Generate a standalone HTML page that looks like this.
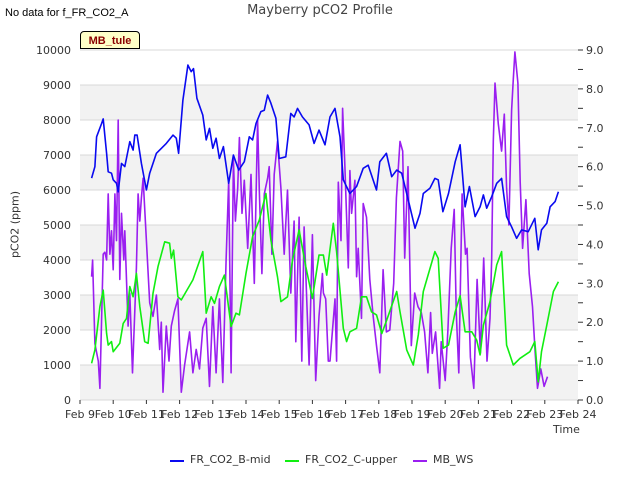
<!DOCTYPE html>
<html><head><meta charset="utf-8"><style>
body{margin:0;background:#fff;font-family:"Liberation Sans","DejaVu Sans",sans-serif;}
svg text{font-family:"DejaVu Sans","Liberation Sans",sans-serif;}
</style></head><body>
<svg id="c" width="640" height="480" xmlns="http://www.w3.org/2000/svg"></svg>
<script>
const xTickLabels=["Feb 9","Feb 10","Feb 11","Feb 12","Feb 13","Feb 14","Feb 15","Feb 16","Feb 17","Feb 18","Feb 19","Feb 20","Feb 21","Feb 22","Feb 23","Feb 24"];
const yLeftTicks=[0,1000,2000,3000,4000,5000,6000,7000,8000,9000,10000];
const yRightTicks=[0,1,2,3,4,5,6,7,8,9];
const blueT=[0.35,0.45,0.5,0.65,0.7,0.8,0.85,0.95,1.0,1.1,1.15,1.25,1.35,1.5,1.6,1.65,1.72,1.85,2.0,2.1,2.3,2.6,2.8,2.9,2.97,3.1,3.25,3.35,3.42,3.52,3.7,3.8,3.9,4.0,4.1,4.2,4.32,4.48,4.62,4.78,4.95,5.1,5.2,5.3,5.45,5.55,5.65,5.75,5.9,6.0,6.2,6.35,6.45,6.55,6.7,6.9,7.05,7.2,7.38,7.53,7.68,7.83,7.93,8.13,8.33,8.53,8.68,8.93,9.03,9.23,9.39,9.54,9.69,9.89,10.09,10.24,10.34,10.54,10.69,10.79,10.93,11.1,11.3,11.45,11.6,11.73,11.9,12.05,12.15,12.25,12.4,12.55,12.7,12.85,13.0,13.15,13.3,13.5,13.7,13.8,13.9,14.06,14.16,14.31,14.41];
const blueV=[6340,6670,7520,7900,8030,7050,6520,6480,6290,6190,5950,6760,6670,7380,7140,7570,7570,6760,6000,6480,7050,7330,7570,7480,7050,8570,9570,9380,9470,8620,8140,7430,7760,7190,7480,6900,7240,6190,7000,6570,6810,7520,7430,7900,8240,8280,8710,8480,8050,6900,6950,8190,8090,8330,8090,7860,7330,7710,7290,8090,8330,7520,6290,5900,6100,6620,6710,6000,6810,7050,6380,6570,6480,5710,4910,5330,5900,6050,6330,6290,5380,5900,6810,7290,5520,6100,5240,5520,5860,5480,5810,6190,6330,5240,4950,4620,4860,4810,5190,4290,4860,5050,5520,5670,5950];
const greenT=[0.35,0.45,0.6,0.7,0.8,0.85,0.95,1.0,1.2,1.3,1.4,1.5,1.6,1.7,1.8,1.95,2.05,2.2,2.35,2.55,2.7,2.75,2.82,2.95,3.05,3.4,3.7,3.8,3.95,4.05,4.2,4.35,4.55,4.7,4.8,5.0,5.2,5.4,5.6,5.75,5.95,6.05,6.25,6.4,6.6,6.8,7.0,7.2,7.33,7.43,7.63,7.73,7.93,8.03,8.13,8.33,8.48,8.63,8.78,8.93,9.09,9.24,9.54,9.64,9.84,10.04,10.19,10.34,10.69,10.79,10.94,11.1,11.3,11.45,11.6,11.8,11.95,12.05,12.15,12.35,12.55,12.7,12.85,13.05,13.25,13.55,13.7,13.8,13.9,14.06,14.26,14.41];
const greenV=[1050,1430,2670,3140,1900,1570,1670,1380,1620,2190,2330,3240,2950,3620,2670,1670,1620,3050,3810,4520,4480,4050,4280,2950,2860,3430,4240,2480,2950,2760,3240,3570,2100,2480,2430,3620,4670,5140,5900,4570,3520,2810,2950,4000,4860,3810,2900,4140,4140,3570,5050,4240,2050,1670,1950,2050,2950,2950,2520,2430,1900,2290,3100,2520,1430,1000,1860,3100,4240,4050,1480,1570,2520,2980,1950,1950,1710,1290,2140,2810,3860,4240,1570,1000,1190,1380,1670,520,1380,2140,3100,3380];
const wsT=[0.35,0.38,0.45,0.55,0.6,0.7,0.75,0.8,0.85,0.9,0.95,1.0,1.05,1.1,1.15,1.2,1.25,1.32,1.35,1.45,1.5,1.58,1.7,1.75,1.8,1.85,1.9,2.0,2.1,2.2,2.3,2.4,2.45,2.5,2.6,2.68,2.75,2.85,2.95,3.05,3.15,3.3,3.4,3.5,3.6,3.7,3.8,3.9,4.0,4.1,4.2,4.3,4.4,4.48,4.55,4.62,4.68,4.75,4.8,4.88,4.95,5.05,5.15,5.25,5.35,5.4,5.48,5.55,5.65,5.7,5.78,5.85,5.95,6.05,6.15,6.25,6.35,6.45,6.5,6.6,6.68,6.75,6.9,7.0,7.1,7.2,7.3,7.4,7.48,7.33,7.53,7.68,7.73,7.78,7.86,7.91,7.98,8.08,8.13,8.18,8.28,8.33,8.38,8.48,8.53,8.63,8.73,8.83,8.93,9.03,9.13,9.23,9.33,9.45,9.53,9.64,9.72,9.78,9.88,9.98,10.08,10.18,10.28,10.38,10.48,10.56,10.61,10.71,10.83,10.88,11.0,11.08,11.18,11.27,11.33,11.41,11.51,11.61,11.66,11.76,11.86,11.96,12.06,12.16,12.26,12.35,12.4,12.45,12.5,12.6,12.7,12.78,12.85,12.92,13.0,13.05,13.1,13.19,13.26,13.33,13.43,13.53,13.63,13.71,13.78,13.88,13.98,14.08,14.18,14.25];
const wsV=[3.17,3.6,1.45,1.0,0.3,3.75,3.8,3.6,5.3,3.75,4.35,3.35,5.3,4.1,7.2,3.1,4.8,3.6,4.35,1.9,2.75,0.7,3.4,5.3,4.6,5.2,5.7,4.1,2.5,2.15,2.7,1.3,2.0,0.2,1.9,1.0,1.9,2.3,2.6,0.2,0.9,1.75,0.7,1.3,0.8,1.85,2.1,0.35,2.4,0.7,2.6,0.45,3.6,5.65,0.7,6.2,4.6,5.45,6.75,4.8,5.65,3.9,5.8,3.0,7.2,5.4,3.25,5.3,5.7,6.0,3.75,5.8,6.65,5.45,3.75,5.4,2.75,4.6,1.5,4.7,1.0,4.45,0.9,4.25,0.5,2.15,3.25,2.6,1.0,2.75,1.0,2.6,1.0,5.6,4.1,7.5,6.0,3.4,5.9,4.8,5.65,3.17,3.9,2.1,5.05,4.7,3.1,2.15,1.4,0.7,3.35,1.75,1.8,3.0,5.2,6.65,6.4,3.65,6.0,1.4,2.75,2.4,2.25,1.75,0.7,2.25,1.2,1.75,0.3,1.5,0.5,1.8,3.9,4.9,2.3,0.7,5.3,3.75,3.9,1.1,0.3,3.1,1.2,3.65,1.0,2.1,3.65,6.65,8.15,7.1,6.4,7.35,5.45,4.5,7.45,8.25,8.95,8.15,5.6,3.9,5.15,3.25,2.4,1.2,0.3,0.8,0.35,0.6];
// fix ordering for wind series (sort by time)
const X0=80,X1=578,Y0=50,Y1=400;
const xs=t=>X0+t*(X1-X0)/15;
const yl=v=>Y1-v*(Y1-Y0)/10000;
const yr=v=>Y1-v*(Y1-Y0)/9;
const NS="http://www.w3.org/2000/svg";
const svg=document.getElementById('c');
function mk(tag,attrs,parent){const e=document.createElementNS(NS,tag);for(const k in attrs)e.setAttribute(k,attrs[k]);(parent||svg).appendChild(e);return e;}
const bg=mk('g',{});


mk('rect',{x:X0,y:Y0,width:X1-X0,height:Y1-Y0,fill:'#fff'},bg);
for(let i=0;i<10;i+=2){const r=mk('rect',{x:X0,y:yl((i+1)*1000),width:X1-X0,height:(Y1-Y0)/10,fill:'#f2f2f2'},bg);}
yLeftTicks.forEach(v=>{mk('line',{x1:X0,x2:X1,y1:yl(v),y2:yl(v),stroke:'#d8d8d8','stroke-width':1},bg);});
// left axis labels
const la=mk('g',{});


yLeftTicks.forEach(v=>{const t=mk('text',{x:X0-9,y:yl(v)+4,'text-anchor':'end','font-size':11,fill:'#333'},la);t.textContent=v;});
const ra=mk('g',{});


for(let v=0;v<=9;v+=0.5){mk('line',{x1:X1,x2:X1+5,y1:yr(v),y2:yr(v),stroke:'#333'},ra);}
yRightTicks.forEach(v=>{const t=mk('text',{x:X1+8,y:yr(v)+4,'font-size':11,fill:'#333'},ra);t.textContent=v.toFixed(1);});
const xa=mk('g',{});


xTickLabels.forEach((l,i)=>{mk('line',{x1:xs(i),x2:xs(i),y1:Y1,y2:Y1+4,stroke:'#333'},xa);const t=mk('text',{x:xs(i),y:Y1+18,'text-anchor':'middle','font-size':11,fill:'#333'},xa);t.textContent=l;});
function line(T,V,f,col,name){const p=mk('polyline',{points:T.map((t,i)=>xs(t).toFixed(1)+','+f(V[i]).toFixed(1)).join(' '),fill:'none',stroke:col,'stroke-width':1.6,'stroke-linejoin':'round'});}
const wIdx=wsT.map((t,i)=>i).sort((a,b)=>wsT[a]-wsT[b]);
line(wIdx.map(i=>wsT[i]),wIdx.map(i=>wsV[i]),yr,'#9a1ff0','series-mb-ws');
line(greenT,greenV,yl,'#11ee11','series-fr-co2-c-upper');
line(blueT,blueV,yl,'#0a0af0','series-fr-co2-b-mid');
</script>
<div style="position:absolute;left:5px;top:7px;font-size:11px;color:#000">No data for f_FR_CO2_A</div>
<div style="position:absolute;left:0;width:640px;top:3px;text-align:center;font-size:13px;color:#444;font-family:'DejaVu Sans',sans-serif">Mayberry pCO2 Profile</div>
<div style="position:absolute;left:80px;top:31px;width:60px;height:18px;background:#ffffc8;border:1px solid #000;border-radius:4px 4px 0 0;font-size:11px;font-weight:bold;color:#8b0000;text-align:center;line-height:18px;box-sizing:border-box">MB_tule</div>
<div style="position:absolute;left:-20px;top:218px;width:70px;text-align:center;transform:rotate(-90deg);font-size:11px;color:#333;font-family:'DejaVu Sans',sans-serif">pCO2 (ppm)</div>
<div style="position:absolute;left:553px;top:423px;font-size:11px;color:#333;font-family:'DejaVu Sans',sans-serif">Time</div>
<div style="position:absolute;top:453px;left:0;width:640px;font-size:11px;color:#333;font-family:'DejaVu Sans',sans-serif">
<span style="position:absolute;left:170px;top:7px;width:14px;height:2px;background:#0a0af0"></span><span style="position:absolute;left:190px;top:0">FR_CO2_B-mid</span>
<span style="position:absolute;left:285px;top:7px;width:14px;height:2px;background:#11ee11"></span><span style="position:absolute;left:305px;top:0">FR_CO2_C-upper</span>
<span style="position:absolute;left:413px;top:7px;width:14px;height:2px;background:#9a1ff0"></span><span style="position:absolute;left:433px;top:0">MB_WS</span>
</div>
</body></html>
